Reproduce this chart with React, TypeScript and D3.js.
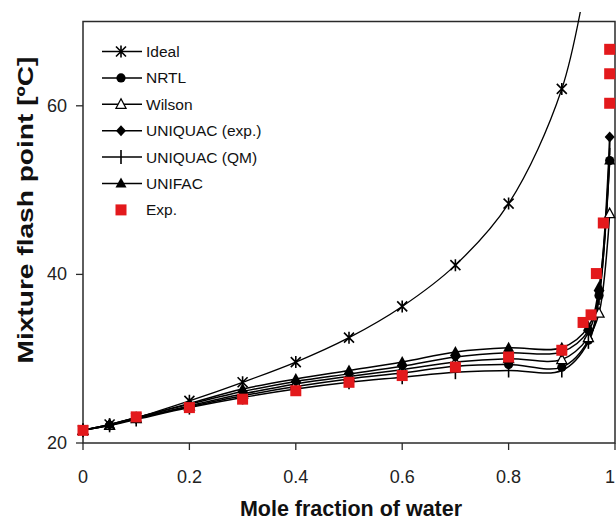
import React from "react";
import * as d3 from "d3";

const W = 616;
const H = 523;

const xTicks = [0, 0.2, 0.4, 0.6, 0.8, 1];
const xTickLabels = ["0", "0.2", "0.4", "0.6", "0.8", "1"];
const yTicks = [20, 40, 60];
const yTickLabels = ["20", "40", "60"];

const idealX = [0, 0.05, 0.1, 0.2, 0.3, 0.4, 0.5, 0.6, 0.7, 0.8, 0.9, 0.95];
const idealY = [21.5, 22.2, 23.0, 25.0, 27.2, 29.6, 32.5, 36.2, 41.1, 48.4, 62.0, 76.5];

const modelX = [0, 0.05, 0.1, 0.2, 0.3, 0.4, 0.5, 0.6, 0.7, 0.8, 0.9, 0.95, 0.97, 0.99];
const nrtlY = [21.5, 22.1, 22.9, 24.3, 25.6, 26.7, 27.6, 28.3, 29.1, 29.3, 29.0, 32.2, 37.5, 53.5];
const wilsonY = [21.5, 22.1, 22.9, 24.4, 25.8, 27.0, 27.9, 28.7, 29.6, 30.0, 29.9, 32.5, 35.4, 47.2];
const uniquacExpY = [21.5, 22.2, 23.0, 24.6, 26.1, 27.3, 28.2, 29.1, 30.2, 30.7, 30.8, 33.3, 38.0, 56.3];
const uniquacQmY = [21.5, 22.1, 22.8, 24.2, 25.4, 26.4, 27.2, 27.8, 28.4, 28.6, 28.6, 32.0, 37.2, 55.0];
const unifacY = [21.5, 22.2, 23.0, 24.7, 26.4, 27.6, 28.6, 29.6, 30.8, 31.3, 31.3, 33.8, 38.5, 53.5];

const expX = [0, 0.1, 0.2, 0.3, 0.4, 0.5, 0.6, 0.7, 0.8, 0.9, 0.94, 0.955, 0.965, 0.978, 0.99, 0.99, 0.99];
const expY = [21.5, 23.1, 24.2, 25.2, 26.2, 27.2, 28.0, 29.0, 30.2, 31.0, 34.3, 35.2, 40.1, 46.1, 60.3, 63.8, 66.7];

const seriesNames = ["Ideal", "NRTL", "Wilson", "UNIQUAC (exp.)", "UNIQUAC (QM)", "UNIFAC", "Exp."];

type MarkerKind = "asterisk" | "circle" | "openTriangle" | "diamond" | "vtick" | "triangle" | "square";

const markerKinds: MarkerKind[] = ["asterisk", "circle", "openTriangle", "diamond", "vtick", "triangle", "square"];

const RED = "#e3191c";

function Marker({ kind, cx, cy }: { kind: MarkerKind; cx: number; cy: number }) {
  switch (kind) {
    case "asterisk":
      return (
        <path
          d={`M${cx - 5},${cy - 5}L${cx + 5},${cy + 5}M${cx - 5},${cy + 5}L${cx + 5},${cy - 5}M${cx},${cy - 6}L${cx},${cy + 6}`}
          stroke="#000"
          strokeWidth={1.6}
          fill="none"
        />
      );
    case "circle":
      return <circle cx={cx} cy={cy} r={4.6} fill="#000" />;
    case "openTriangle":
      return (
        <path
          d={`M${cx},${cy - 5.5}L${cx + 5},${cy + 4}L${cx - 5},${cy + 4}Z`}
          fill="#fff"
          stroke="#000"
          strokeWidth={1.3}
        />
      );
    case "diamond":
      return <path d={`M${cx},${cy - 5.5}L${cx + 5},${cy}L${cx},${cy + 5.5}L${cx - 5},${cy}Z`} fill="#000" />;
    case "vtick":
      return <path d={`M${cx},${cy - 7}L${cx},${cy + 7}`} stroke="#000" strokeWidth={1.6} />;
    case "triangle":
      return <path d={`M${cx},${cy - 6}L${cx + 5.5},${cy + 4}L${cx - 5.5},${cy + 4}Z`} fill="#000" />;
    case "square":
      return <rect x={cx - 5.5} y={cy - 5.5} width={11} height={11} fill={RED} />;
  }
}

export default function App() {
  const x = d3.scaleLinear().domain([0, 1]).range([83, 615]);
  const y = d3.scaleLinear().domain([20, 70]).range([443, 21.5]);

  const line = d3
    .line<[number, number]>()
    .x((d) => x(d[0]))
    .y((d) => y(d[1]))
    .curve(d3.curveCatmullRom.alpha(0.5));

  const models: { xs: number[]; ys: number[]; kind: MarkerKind; w: number }[] = [
    { xs: modelX, ys: nrtlY, kind: "circle", w: 1.5 },
    { xs: modelX, ys: wilsonY, kind: "openTriangle", w: 1.5 },
    { xs: modelX, ys: uniquacQmY, kind: "vtick", w: 1.5 },
    { xs: modelX, ys: uniquacExpY, kind: "diamond", w: 1.5 },
    { xs: modelX, ys: unifacY, kind: "triangle", w: 1.5 },
    { xs: idealX, ys: idealY, kind: "asterisk", w: 1.3 },
  ];

  const left = x(0);
  const right = x(1);
  const top = y(70);
  const bottom = y(20);

  const legendX0 = 102;
  const legendX1 = 142;
  const legendY0 = 51.5;
  const legendStep = 26.4;

  return (
    <svg
      width={W}
      height={H}
      style={{ position: "absolute", left: 0, top: 0, background: "#fff" }}
      fontFamily="'Liberation Sans', Arial, sans-serif"
    >
      <defs>
        <clipPath id="plotClip">
          <rect x={70} y={12} width={560} height={450} />
        </clipPath>
      </defs>
      <rect x={0} y={0} width={W} height={H} fill="#fff" />

      {/* frame */}
      <rect x={left} y={top} width={right - left} height={bottom - top} fill="none" stroke="#2a2a2a" strokeWidth={1.5} />

      {/* x ticks */}
      {xTicks.map((t, i) => (
        <g key={`xt${i}`}>
          <line x1={x(t)} x2={x(t)} y1={bottom} y2={bottom + 7} stroke="#2a2a2a" strokeWidth={1.3} />
          <text
            x={Math.min(x(t), 610)}
            y={477}
            textAnchor="middle"
            dominantBaseline="central"
            fontSize={18}
            fill="#222"
          >
            {xTickLabels[i]}
          </text>
        </g>
      ))}

      {/* y ticks */}
      {yTicks.map((t, i) => (
        <g key={`yt${i}`}>
          <line x1={left - 7} x2={left} y1={y(t)} y2={y(t)} stroke="#2a2a2a" strokeWidth={1.3} />
          <text x={67} y={y(t)} textAnchor="end" dominantBaseline="central" fontSize={18} fill="#222">
            {yTickLabels[i]}
          </text>
        </g>
      ))}

      {/* axis titles */}
      <text x={351} y={509} textAnchor="middle" dominantBaseline="central" fontSize={21.5} fontWeight="bold" fill="#111">
        Mole fraction of water
      </text>
      <text
        transform={`translate(25, 210) scale(1, 1.25) rotate(-90)`}
        textAnchor="middle"
        dominantBaseline="central"
        fontSize={22.5}
        fontWeight="bold"
        fill="#111"
      >
        Mixture flash point [ºC]
      </text>

      <g clipPath="url(#plotClip)">
        {models.map((m, i) => (
          <path
            key={`l${i}`}
            d={line(m.xs.map((v, j) => [v, m.ys[j]] as [number, number])) || ""}
            fill="none"
            stroke="#000"
            strokeWidth={m.w}
          />
        ))}
        {models.map((m, i) => (
          <g key={`m${i}`}>
            {m.xs.map((v, j) => (
              <Marker key={j} kind={m.kind} cx={x(v)} cy={y(m.ys[j])} />
            ))}
          </g>
        ))}
        {expX.map((v, j) => (
          <Marker key={`e${j}`} kind="square" cx={x(v)} cy={y(expY[j])} />
        ))}
      </g>

      {/* legend */}
      {seriesNames.map((name, i) => {
        const ly = legendY0 + i * legendStep;
        const kind = markerKinds[i];
        return (
          <g key={`lg${i}`}>
            {kind !== "square" && (
              <line x1={legendX0} x2={legendX1} y1={ly} y2={ly} stroke="#000" strokeWidth={1.5} />
            )}
            <Marker kind={kind} cx={(legendX0 + legendX1) / 2 - 1} cy={ly} />
            <text x={146} y={ly} dominantBaseline="central" fontSize={15.5} fill="#111">
              {name}
            </text>
          </g>
        );
      })}
    </svg>
  );
}
